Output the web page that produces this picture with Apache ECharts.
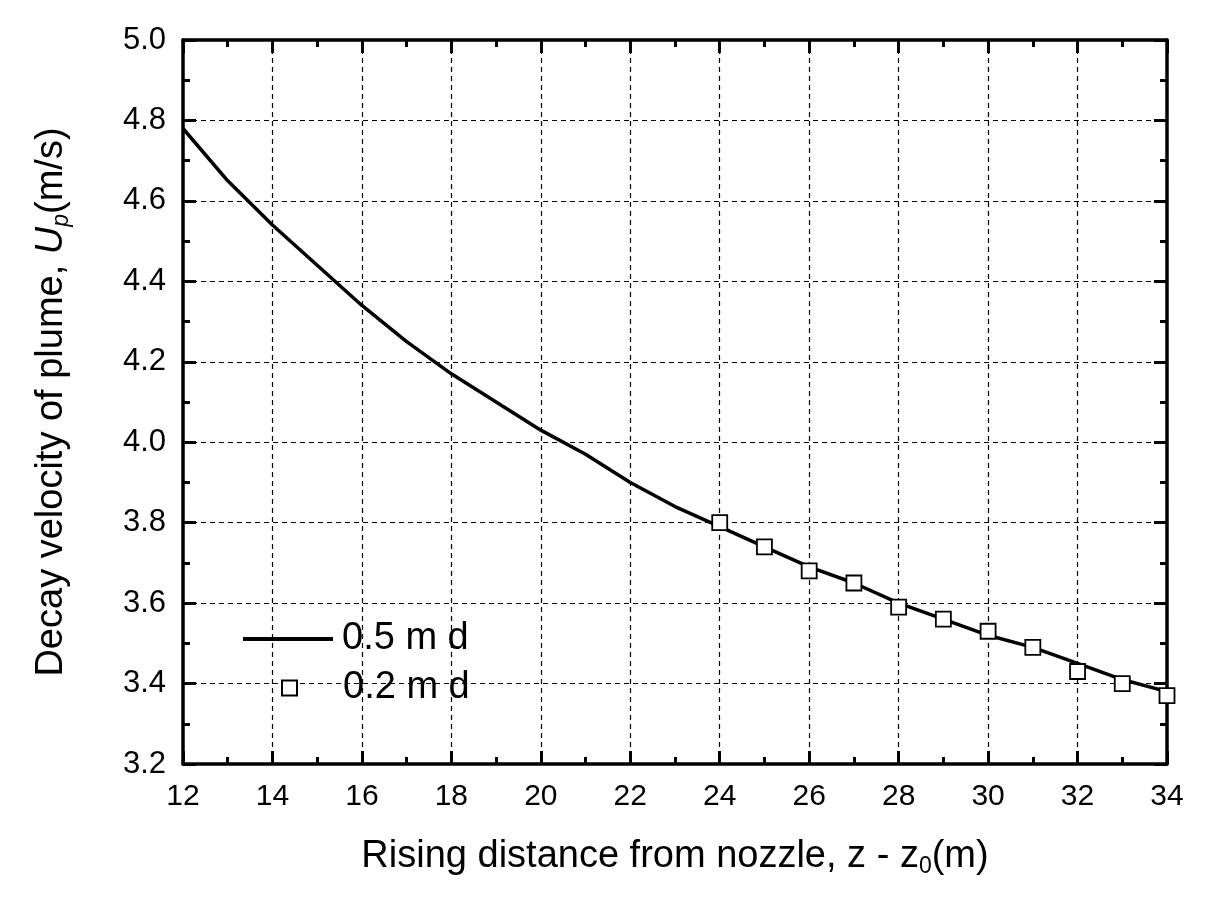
<!DOCTYPE html>
<html>
<head>
<meta charset="utf-8">
<script src="https://cdn.jsdelivr.net/npm/echarts@6/dist/echarts.min.js"></script>
<style>
html,body{margin:0;padding:0;background:#fff;}
#chart{width:1211px;height:904px;}
</style>
</head>
<body>
<div id="chart"></div>
<script>
// ---- data ----
const xLine = [12,13,14,15,16,17,18,19,20,21,22,23,24,25,26,27,28,29,30,31,32,33,34];
const line05 = [4.78,4.65,4.54,4.44,4.34,4.25,4.17,4.10,4.03,3.97,3.90,3.84,3.79,3.74,3.69,3.65,3.60,3.56,3.52,3.49,3.45,3.41,3.38];
const xMarker = [24,25,26,27,28,29,30,31,32,33,34];
const marker02 = [3.80,3.74,3.68,3.65,3.59,3.56,3.53,3.49,3.43,3.40,3.37];
const seriesNames = ['0.5 m d', '0.2 m d'];
const xRange = {min: 12, max: 34, interval: 2};
const yRange = {min: 3.2, max: 5.0, interval: 0.2};

const FONT = '"Liberation Sans", Arial, sans-serif';
const chart = echarts.init(document.getElementById('chart'));

const axisLine = {show: true, onZero: false, lineStyle: {color: '#000', width: 3.5}};
const tick = {show: true, inside: true, length: 13, lineStyle: {color: '#000', width: 3}};
const minor = {show: true, splitNumber: 2, length: 7, lineStyle: {color: '#000', width: 3}};
const split = {show: true, lineStyle: {color: '#000', width: 1.2, type: [5, 4]}};

const option = {
  backgroundColor: '#fff',
  animation: false,
  textStyle: {fontFamily: FONT},
  grid: {left: 183, right: 44, top: 40, bottom: 140, containLabel: false},
  legend: [
    {
      data: [{name: seriesNames[0], icon: 'rect'}],
      left: 238, top: 615,
      itemWidth: 90, itemHeight: 4, itemGap: 0,
      textStyle: {fontSize: 38, color: '#000', fontFamily: FONT, padding: [0, 0, 0, 4]},
      selectedMode: false
    },
    {
      data: [seriesNames[1]],
      left: 276, top: 664,
      itemWidth: 15, itemHeight: 15, itemGap: 0,
      textStyle: {fontSize: 38, color: '#000', fontFamily: FONT, padding: [0, 0, 0, 41]},
      selectedMode: false
    }
  ],
  xAxis: [
    {
      type: 'value', position: 'bottom',
      min: xRange.min, max: xRange.max, interval: xRange.interval,
      axisLine: axisLine, axisTick: tick, minorTick: minor,
      splitLine: split, minorSplitLine: {show: false},
      axisLabel: {color: '#000', fontSize: 30, margin: 18, fontFamily: FONT},
      name: '{a|Rising distance from nozzle, z - z}{s|0}{a|(m)}',
      nameLocation: 'middle', nameGap: 71,
      nameTextStyle: {
        rich: {
          a: {fontSize: 38, color: '#000', fontFamily: FONT},
          s: {fontSize: 23, color: '#000', fontFamily: FONT, padding: [20, 0, 0, 0]}
        }
      }
    },
    {
      type: 'value', position: 'top',
      min: xRange.min, max: xRange.max, interval: xRange.interval,
      axisLine: axisLine, axisTick: tick, minorTick: minor,
      splitLine: {show: false}, axisLabel: {show: false}
    }
  ],
  yAxis: [
    {
      type: 'value', position: 'left',
      min: yRange.min, max: yRange.max, interval: yRange.interval,
      axisLine: axisLine, axisTick: tick, minorTick: minor,
      splitLine: split, minorSplitLine: {show: false},
      axisLabel: {color: '#000', fontSize: 31, margin: 17, fontFamily: FONT,
        formatter: v => v.toFixed(1)},
      name: '{a|Decay velocity of plume, }{i|U}{s|p}{a|(m/s)}',
      nameLocation: 'middle', nameGap: 110, nameRotate: 90,
      nameTextStyle: {
        rich: {
          a: {fontSize: 38, color: '#000', fontFamily: FONT},
          i: {fontSize: 38, color: '#000', fontFamily: FONT, fontStyle: 'italic'},
          s: {fontSize: 23, color: '#000', fontFamily: FONT, fontStyle: 'italic', padding: [20, 0, 0, 0]}
        }
      }
    },
    {
      type: 'value', position: 'right',
      min: yRange.min, max: yRange.max, interval: yRange.interval,
      axisLine: axisLine, axisTick: tick, minorTick: minor,
      splitLine: {show: false}, axisLabel: {show: false}
    }
  ],
  series: [
    {
      name: seriesNames[0],
      type: 'line',
      data: xLine.map((x, i) => [x, line05[i]]),
      showSymbol: false, symbol: 'none',
      lineStyle: {color: '#000', width: 3.5},
      itemStyle: {color: '#000'},
      z: 3
    },
    {
      name: seriesNames[1],
      type: 'scatter',
      data: xMarker.map((x, i) => [x, marker02[i]]),
      symbol: 'rect', symbolSize: 15,
      itemStyle: {color: '#fff', borderColor: '#000', borderWidth: 1.8, opacity: 1},
      z: 4
    }
  ]
};
chart.setOption(option);
</script>
</body>
</html>
